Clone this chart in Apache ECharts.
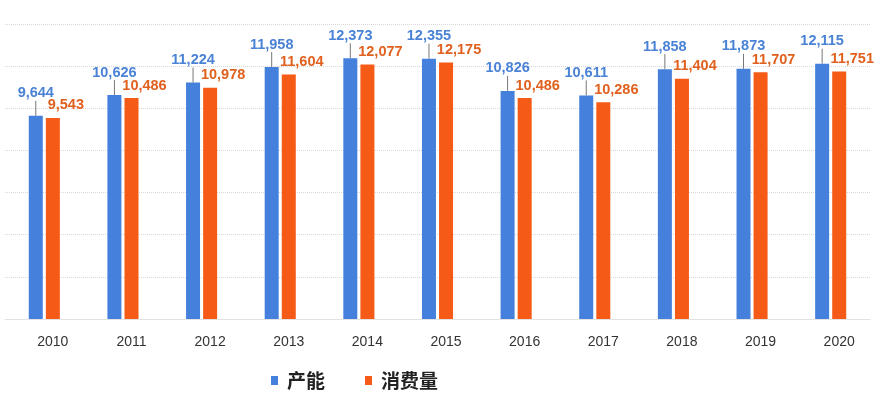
<!DOCTYPE html>
<html><head><meta charset="utf-8">
<script src="https://cdn.jsdelivr.net/npm/echarts@6/dist/echarts.min.js"></script>
<style>html,body{margin:0;padding:0;background:#fff}#c{width:892px;height:400px}</style>
</head><body><div id="c"></div>
<script>
var categories = ['2010','2011','2012','2013','2014','2015','2016','2017','2018','2019','2020'];
var capacity = [9644,10626,11224,11958,12373,12355,10826,10611,11858,11873,12115];
var consumption = [9543,10486,10978,11604,12077,12175,10486,10286,11404,11707,11751];
var seriesNames = ['产能','消费量'];
var fmt = function(p){ return p.value.toLocaleString('en-US'); };
var numFont = "'Liberation Sans','Noto Sans',sans-serif";
var chart = echarts.init(document.getElementById('c'));
chart.setOption({
  animation:false,
  grid:{left:5,right:22,top:24,bottom:81},
  legend:{left:266,top:366,itemWidth:7,itemHeight:9,itemGap:40,icon:'rect',
    textStyle:{fontFamily:"'Noto Sans CJK SC',sans-serif",fontSize:19,fontWeight:'bold',color:'#222',padding:[0,0,0,4]},
    data:seriesNames},
  xAxis:{type:'category',data:categories,
    axisLine:{show:true,lineStyle:{color:'#e2e2e2'}},axisTick:{show:false},
    axisLabel:{margin:16,fontSize:14,color:'#333',padding:[0,0,0,17],fontFamily:"'Liberation Sans','Noto Sans',sans-serif"}},
  yAxis:{type:'value',min:0,max:14000,interval:2000,
    axisLabel:{show:false},axisLine:{show:false},axisTick:{show:false},
    splitLine:{lineStyle:{color:'#d8d8d8',type:'dotted'}}},
  series:[
    {name:seriesNames[0],type:'bar',data:capacity,barWidth:14,barGap:'22%',
     itemStyle:{color:'#4480dc'},
     label:{show:true,position:'top',distance:2,formatter:fmt,color:'#4a82d6',fontSize:14.5,fontWeight:'bold',fontFamily:numFont},
     labelLayout:{dy:-13},
     labelLine:{show:true,lineStyle:{color:'#777',width:1}}},
    {name:seriesNames[1],type:'bar',data:consumption,barWidth:14,
     itemStyle:{color:'#f55a16'},
     label:{show:true,position:'top',distance:2,offset:[13,-3],formatter:fmt,color:'#e0601e',fontSize:14.5,fontWeight:'bold',fontFamily:numFont}}
  ]
});
</script></body></html>
